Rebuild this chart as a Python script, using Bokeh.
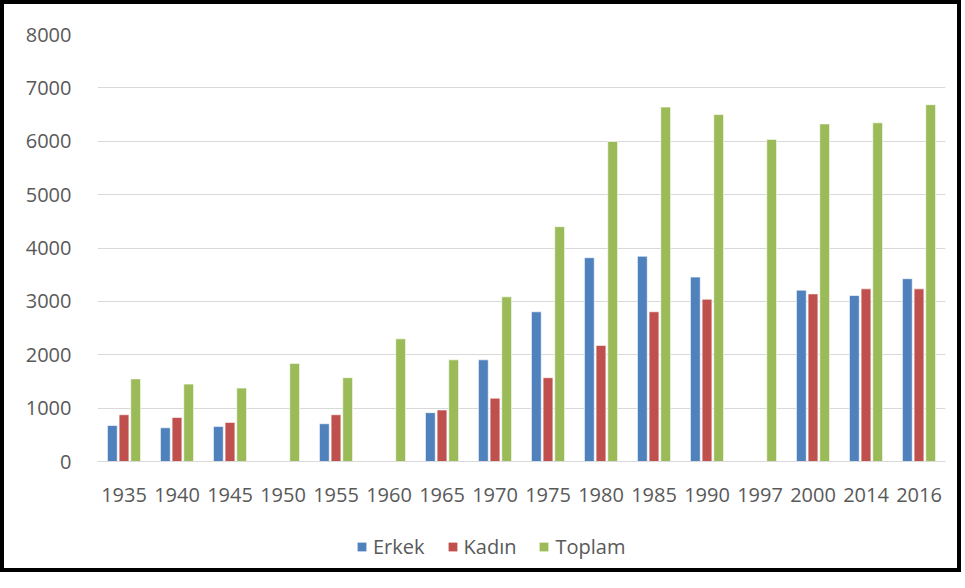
import numpy as np
from bokeh.plotting import figure
from bokeh.layouts import column
from bokeh.models import FactorRange, FixedTicker, Legend, LegendItem, ColumnDataSource, Range1d
from bokeh.transform import dodge
from bokeh.embed import file_html
from bokeh.resources import INLINE

years = ["1935", "1940", "1945", "1950", "1955", "1960", "1965", "1970",
         "1975", "1980", "1985", "1990", "1997", "2000", "2014", "2016"]
erkek = [675, 632, 657, np.nan, 707, np.nan, 915, 1905,
         2805, 3818, 3845, 3455, np.nan, 3210, 3110, 3425]
kadin = [876, 825, 732, np.nan, 876, np.nan, 965, 1187,
         1570, 2175, 2805, 3040, np.nan, 3140, 3235, 3235]
toplam = [1548, 1450, 1375, 1838, 1570, 2298, 1905, 3085,
          4400, 5995, 6640, 6500, 6035, 6325, 6345, 6685]
y_ticks = [0, 1000, 2000, 3000, 4000, 5000, 6000, 7000, 8000]

series_names = ["Erkek", "Kadın", "Toplam"]
colors = ["#4F81BD", "#C0504D", "#9BBB59"]

W = 953
H1, H2 = 517, 47
src = ColumnDataSource(dict(year=years, erkek=erkek, kadin=kadin, toplam=toplam))

font = "Open Sans"
grey = "#595959"

p = figure(x_range=FactorRange(*years), y_range=Range1d(0, 8000),
           width=W, height=H1, output_backend="svg", toolbar_location=None,
           min_border_left=93, min_border_right=12, min_border_top=30,
           min_border_bottom=H1 - 457)
p.background_fill_color = "white"
p.border_fill_color = "white"
p.outline_line_color = None

offs = [-0.22, 0.0, 0.22]
for col, off, c in zip(["erkek", "kadin", "toplam"], offs, colors):
    p.vbar(x=dodge("year", off, range=p.x_range), top=col, width=0.185, source=src,
           fill_color=c, line_color="white", line_width=1, line_alpha=0.6)

p.xgrid.grid_line_color = None
p.ygrid.grid_line_color = "#d9d9d9"
p.ygrid.grid_line_width = 1
p.yaxis.ticker = FixedTicker(ticks=y_ticks)

for ax in [p.xaxis[0], p.yaxis[0]]:
    ax.major_tick_line_color = None
    ax.minor_tick_line_color = None
    ax.major_label_text_font = font
    ax.major_label_text_font_size = "20px"
    ax.major_label_text_color = grey
p.yaxis.axis_line_color = None
p.xaxis.axis_line_color = "#d9d9d9"
p.xaxis.major_label_standoff = 20
p.yaxis.major_label_standoff = 20
p.x_range.range_padding = 0
p.x_range.group_padding = 0

# legend strip underneath (renderers hold one empty bar each, only for the legend swatches)
q = figure(width=W, height=H2, output_backend="svg", toolbar_location=None,
           x_range=Range1d(0, 1), y_range=Range1d(0, 1),
           x_axis_location=None, y_axis_location=None, min_border=0)
q.background_fill_color = "white"
q.border_fill_color = "white"
q.outline_line_color = None
q.grid.grid_line_color = None
leg_r = [q.vbar(x=[0.5], top=[np.nan], width=0.1, fill_color=c, line_color=None)
         for c in colors]
legend = Legend(items=[LegendItem(label=n, renderers=[r]) for n, r in zip(series_names, leg_r)],
                orientation="horizontal", location=(259, 8),
                label_text_font=font, label_text_font_size="20px", label_text_color=grey,
                glyph_width=11, glyph_height=11, label_standoff=6, spacing=22,
                padding=0, margin=0, border_line_color=None, background_fill_alpha=0)
q.add_layout(legend, "center")

layout = column(p, q, spacing=0, styles={"border": "4px solid black", "background": "white"})

open("out.html", "w").write(file_html(layout, INLINE))
